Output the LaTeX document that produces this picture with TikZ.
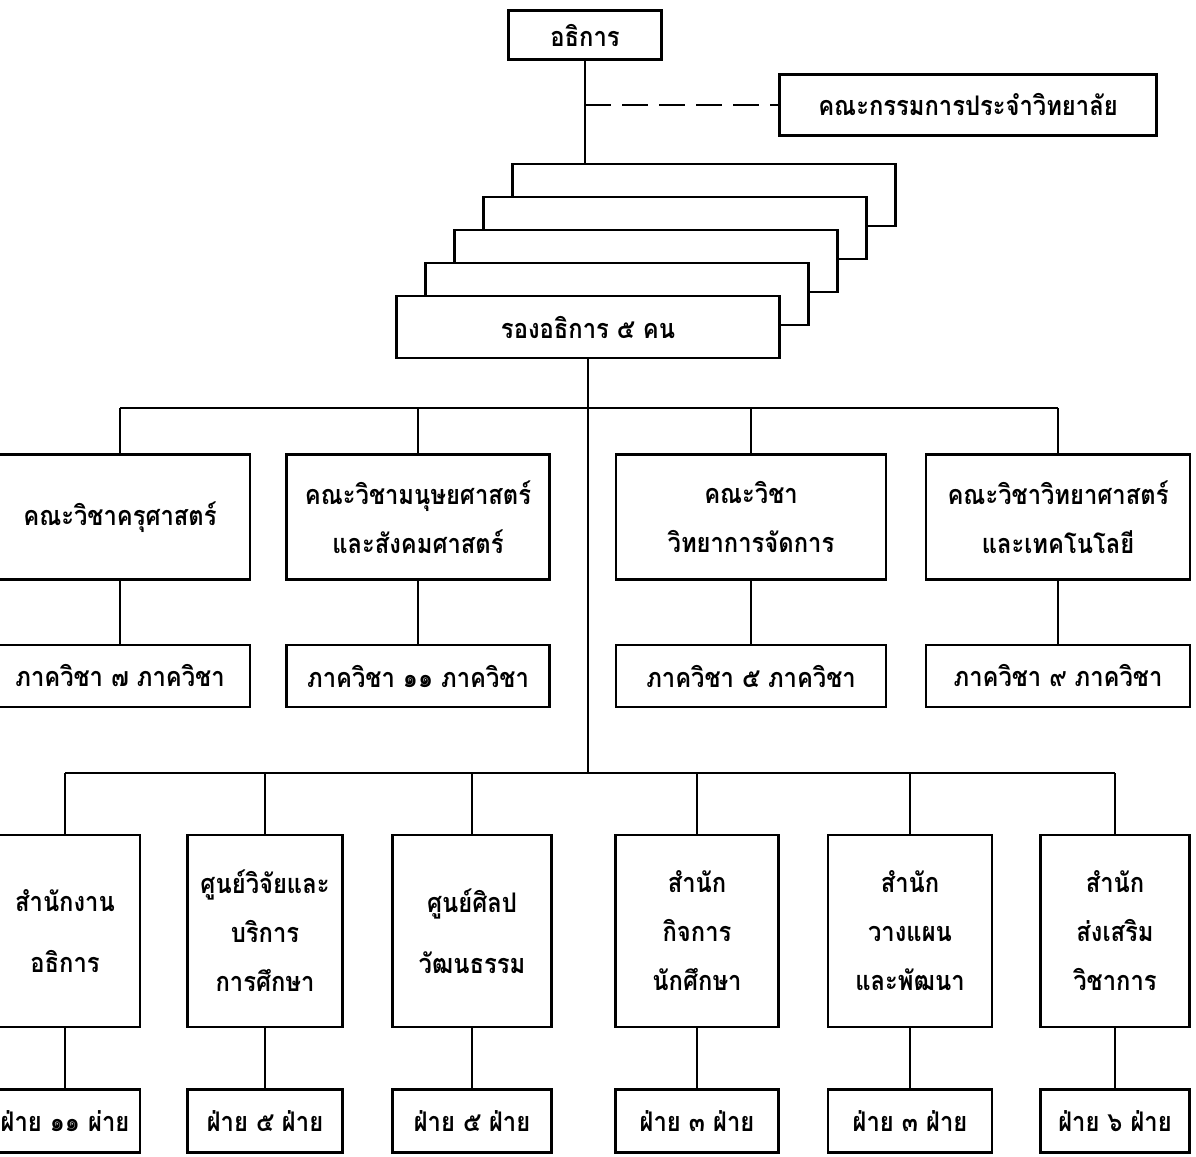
\documentclass[tikz,border=0pt]{standalone}
\usepackage{fontspec}
\newfontfamily\thaifont[Script=Thai,FakeStretch=0.88]{Loma}

\begin{document}
\begin{tikzpicture}[x=1pt,y=-1pt,
  box/.style={draw,line width=2.6pt,fill=white,inner sep=0pt,align=center,
    font={\thaifont\bfseries\fontsize{27}{49}\selectfont}},
  link/.style={line width=2pt}]
  \useasboundingbox (0,0) rectangle (1196,1156);
  \def\dx{29}
  \def\dy{33}
  \coordinate (busA) at (0,408);
  \coordinate (busB) at (0,773);

  \node[box,minimum width=153pt,minimum height=49pt] (dir) at (585,35) {อธิการ};
  \node[box,minimum width=377pt,minimum height=61pt] (board) at (968,105) {คณะกรรมการประจำวิทยาลัย};
  \foreach \k in {4,3,2,1}
    \node[box,minimum width=383pt,minimum height=62pt] (vp\k) at ({588+\dx*\k},{327-\dy*\k}) {};
  \node[box,minimum width=383pt,minimum height=62pt] (vp) at (588,327) {รองอธิการ ๕ คน};
  \draw[link] (dir.south) -- (dir.south |- vp4.north);
  \draw[link,dash pattern=on 26pt off 11pt] (dir.south |- board.west) -- (board.west);
  \draw[link] (vp.south) -- (vp.south |- busB);

  \foreach \x/\w/\t/\d [count=\i] in {
    120/260/{คณะวิชาครุศาสตร์}/{ภาควิชา ๗ ภาควิชา},
    418/263/{คณะวิชามนุษยศาสตร์\\และสังคมศาสตร์}/{ภาควิชา ๑๑ ภาควิชา},
    751/270/{คณะวิชา\\วิทยาการจัดการ}/{ภาควิชา ๕ ภาควิชา},
    1058/264/{คณะวิชาวิทยาศาสตร์\\และเทคโนโลยี}/{ภาควิชา ๙ ภาควิชา}} {
    \node[box,minimum width=\w pt,minimum height=125pt] (fac\i) at (\x,517) {\t};
    \node[box,minimum width=\w pt,minimum height=62pt] (dep\i) at (\x,676) {\d};
    \draw[link] (fac\i.north) -- (fac\i.north |- busA) (fac\i.south) -- (dep\i.north);
  }
  \draw[link] (fac1.north |- busA) -- (fac4.north |- busA);

  \foreach \x/\w/\t/\d [count=\i] in {
    65/150/{สำนักงาน\\[12pt]อธิการ}/{ฝ่าย ๑๑ ผ่าย},
    265/155/{ศูนย์วิจัยและ\\บริการ\\การศึกษา}/{ฝ่าย ๕ ฝ่าย},
    472/159/{ศูนย์ศิลป\\[12pt]วัฒนธรรม}/{ฝ่าย ๕ ฝ่าย},
    697/163/{สำนัก\\กิจการ\\นักศึกษา}/{ฝ่าย ๓ ฝ่าย},
    910/164/{สำนัก\\วางแผน\\และพัฒนา}/{ฝ่าย ๓ ฝ่าย},
    1115/149/{สำนัก\\ส่งเสริม\\วิชาการ}/{ฝ่าย ๖ ฝ่าย}} {
    \node[box,minimum width=\w pt,minimum height=192pt] (off\i) at (\x,931) {\t};
    \node[box,minimum width=\w pt,minimum height=63pt] (div\i) at (\x,1121) {\d};
    \draw[link] (off\i.north) -- (off\i.north |- busB) (off\i.south) -- (div\i.north);
  }
  \draw[link] (off1.north |- busB) -- (off6.north |- busB);
\end{tikzpicture}
\end{document}
